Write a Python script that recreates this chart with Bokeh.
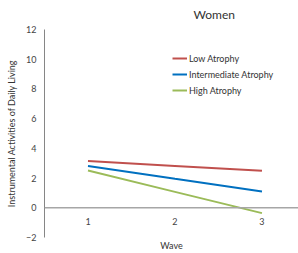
from bokeh.plotting import figure
from bokeh.models import Range1d, FixedTicker, Span, Legend, LegendItem, ColumnDataSource
from bokeh.embed import file_html
from bokeh.resources import INLINE
from bokeh.core.properties import value

waves = [1, 2, 3]
wave_labels = ["1", "2", "3"]
low_atrophy = [3.15, 2.82, 2.49]
intermediate_atrophy = [2.82, 1.95, 1.09]
high_atrophy = [2.51, 1.07, -0.36]
series_names = ["Low Atrophy", "Intermediate Atrophy", "High Atrophy"]
series_colors = ["#C0504D", "#0070C0", "#9BBB59"]
y_ticks = [-2, 0, 2, 4, 6, 8, 10, 12]

FONT = "Lato"

p = figure(width=298, height=253, output_backend="svg", toolbar_location=None,
           x_range=Range1d(0.5, 3.42), y_range=Range1d(-2, 12),
           min_border_left=44, min_border_right=0, min_border_top=29, min_border_bottom=14)
p.outline_line_color = None
p.grid.visible = False
p.background_fill_color = "white"

p.title.text = "Women"
p.title.text_font = FONT
p.title.text_font_size = "12px"
p.title.text_font_style = "normal"
p.title.text_color = "#333333"
p.title.align = "left"
p.title.vertical_align = "top"
p.title.offset = 149
p.title.standoff = 11

zero = Span(location=0, dimension="width", line_color="#A6A6A6", line_width=1.5)
p.add_layout(zero)

renderers = []
for vals, col in zip([low_atrophy, intermediate_atrophy, high_atrophy], series_colors):
    r = p.line(waves, vals, line_color=col, line_width=2)
    renderers.append(r)

# category labels along the zero line
src = ColumnDataSource(dict(x=waves, y=[0] * len(waves), t=wave_labels))
p.text(x="x", y="y", text="t", source=src, y_offset=14, text_align="center",
       text_baseline="middle", text_font=value(FONT), text_font_size="9px",
       text_color="#444444")

legend = Legend(items=[LegendItem(label=n, renderers=[r]) for n, r in zip(series_names, renderers)],
                location=(128, 141), padding=0, margin=0, border_line_color=None,
                background_fill_alpha=0, glyph_width=15, glyph_height=12, spacing=4,
                label_standoff=2, label_text_font=FONT, label_text_font_size="9px",
                label_text_color="#333333", label_height=12)
p.add_layout(legend, "center")

# y axis
p.yaxis.ticker = FixedTicker(ticks=y_ticks)
p.yaxis.axis_line_color = "#868686"
p.yaxis.major_tick_line_color = None
p.yaxis.minor_tick_line_color = None
p.yaxis.major_tick_out = 0
p.yaxis.major_label_text_font = FONT
p.yaxis.major_label_text_font_size = "9px"
p.yaxis.major_label_text_color = "#444444"
p.yaxis.major_label_standoff = 8
p.yaxis.axis_label = "Instrumental Activities of Daily Living"
p.yaxis.axis_label_text_font = FONT
p.yaxis.axis_label_text_font_size = "9px"
p.yaxis.axis_label_text_font_style = "normal"
p.yaxis.axis_label_text_color = "#333333"
p.yaxis.axis_label_standoff = 6

# x axis: only the title below the frame
p.xaxis.ticker = FixedTicker(ticks=[])
p.xaxis.axis_line_color = None
p.xaxis.major_tick_line_color = None
p.xaxis.minor_tick_line_color = None
p.xaxis.major_tick_out = 0
p.xaxis.major_label_standoff = 0
p.xaxis.axis_label = "Wave"
p.xaxis.axis_label_text_font = FONT
p.xaxis.axis_label_text_font_size = "9px"
p.xaxis.axis_label_text_font_style = "normal"
p.xaxis.axis_label_text_color = "#333333"
p.xaxis.axis_label_standoff = 2

open("out.html", "w").write(file_html(p, INLINE))
